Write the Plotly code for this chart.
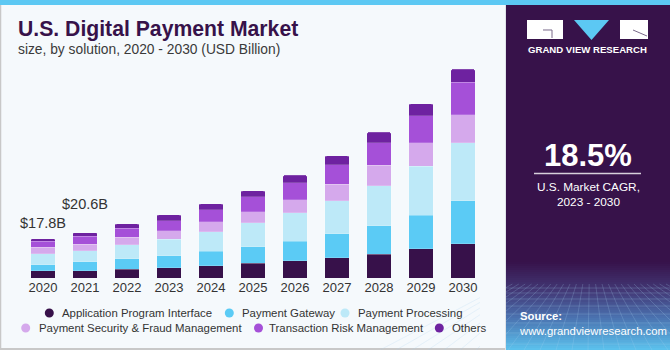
import plotly.graph_objects as go

# ---------------- data ----------------
years = ["2020", "2021", "2022", "2023", "2024", "2025", "2026", "2027", "2028", "2029", "2030"]
segment_names = ["Application Program Interface", "Payment Gateway", "Payment Processing",
                 "Payment Security & Fraud Management", "Transaction Risk Management", "Others"]
api = [3.3, 3.4, 4.05, 4.65, 5.55, 6.75, 7.8, 9.15, 10.8, 13.2, 15.6]
gateway = [2.9, 4.0, 4.65, 5.4, 6.6, 7.35, 8.85, 10.95, 12.9, 15.15, 19.2]
processing = [4.8, 5.1, 6.3, 7.5, 8.7, 10.95, 12.75, 14.7, 17.85, 22.05, 26.1]
security = [2.9, 2.85, 3.45, 3.9, 4.5, 4.95, 5.85, 7.5, 9.3, 10.5, 12.75]
risk = [2.7, 3.6, 4.05, 4.5, 5.4, 6.6, 7.8, 8.7, 10.05, 12.15, 14.55]
others = [1.2, 1.65, 1.95, 2.55, 2.7, 2.7, 3.3, 4.05, 4.8, 5.4, 5.85]
value_labels = ["$17.8B", "$20.6B"]
cagr_text = "18.5%"
cagr_caption = "U.S. Market CAGR,<br>2023 - 2030"

series = [api, gateway, processing, security, risk, others]
colors = ["#37114a", "#5bcbf5", "#bde9f8", "#d5a9ec", "#a550d8", "#6e22a0"]

W, H = 670, 350


def px(x):
    return x / W


def py(y):
    return 1 - y / H


fig = go.Figure()
for name, vals, col in zip(segment_names, series, colors):
    fig.add_trace(go.Bar(
        x=years, y=vals, name=name, marker_color=col,
        marker_line_width=0.5, marker_line_color="rgba(255,255,255,0.35)",
        showlegend=False, hoverinfo="skip"))

shapes = []
annotations = []

# backgrounds
shapes.append(dict(type="rect", xref="paper", yref="paper", x0=0, x1=px(506), y0=0, y1=1,
                   fillcolor="#f5f9fc", line_width=0, layer="below"))
shapes.append(dict(type="line", xref="paper", yref="paper", x0=px(0.5), x1=px(0.5), y0=0, y1=1,
                   line=dict(color="#c8c8c8", width=1.5), layer="below"))
shapes.append(dict(type="line", xref="paper", yref="paper", x0=0, x1=px(506), y0=py(349), y1=py(349),
                   line=dict(color="#c8c8c8", width=2), layer="below"))
shapes.append(dict(type="rect", xref="paper", yref="paper", x0=px(506), x1=1, y0=0, y1=1,
                   fillcolor="#37124a", line_width=0, layer="below"))


# gradient at bottom of right panel
def hex2rgb(h):
    h = h.lstrip("#")
    return [int(h[i:i + 2], 16) for i in (0, 2, 4)]


stops = [(262, "#37124a"), (292, "#433a78"), (318, "#4a72b0"), (350, "#5cc3ee")]
y = 262.0
step = 2.0
while y < 350:
    ym = y + step / 2
    for (a, ca), (b, cb) in zip(stops[:-1], stops[1:]):
        if a <= ym <= b:
            t = (ym - a) / (b - a)
            c1, c2 = hex2rgb(ca), hex2rgb(cb)
            c = [round(c1[i] + (c2[i] - c1[i]) * t) for i in range(3)]
            break
    shapes.append(dict(type="rect", xref="paper", yref="paper", x0=px(506), x1=1,
                       y0=py(min(y + step + 0.5, 350)), y1=py(y), fillcolor="rgb(%d,%d,%d)" % tuple(c),
                       line_width=0, layer="below"))
    y += step

# mesh pattern
grid_col = "rgba(170,210,240,0.28)"
for gy in [288, 293, 299, 306, 314, 323, 333, 344]:
    shapes.append(dict(type="line", xref="paper", yref="paper", x0=px(506), x1=1, y0=py(gy), y1=py(gy),
                       line=dict(color=grid_col, width=0.8), layer="below"))
vx, vy = 590, 240
for xb in range(380, 820, 16):
    ys = 284
    xs = vx + (xb - vx) * (ys - vy) / (350 - vy)
    shapes.append(dict(type="line", xref="paper", yref="paper", x0=px(xs), x1=px(xb), y0=py(ys), y1=py(350),
                       line=dict(color=grid_col, width=0.8), layer="below"))
# cover overflow of mesh to the left of right panel
shapes.append(dict(type="rect", xref="paper", yref="paper", x0=px(480), x1=px(506), y0=0, y1=py(260),
                   fillcolor="#f5f9fc", line_width=0, layer="below"))
shapes.append(dict(type="line", xref="paper", yref="paper", x0=px(480), x1=px(506), y0=py(349), y1=py(349),
                   line=dict(color="#c8c8c8", width=2), layer="below"))
shapes.append(dict(type="line", xref="paper", yref="paper", x0=px(505.5), x1=px(505.5), y0=0, y1=1,
                   line=dict(color="#dfe3e8", width=1), layer="below"))

# top cyan strip
shapes.append(dict(type="rect", xref="paper", yref="paper", x0=0, x1=1, y0=py(5), y1=1,
                   fillcolor="#5cc8f3", line_width=0, layer="below"))

# logo
shapes.append(dict(type="rect", xref="paper", yref="paper", x0=px(527), x1=px(563), y0=py(39), y1=py(20),
                   fillcolor="white", line_width=0))
shapes.append(dict(type="path", xref="paper", yref="paper",
                   path="M %f %f L %f %f L %f %f Z" % (px(574), py(20), px(609), py(20), px(591.5), py(40)),
                   fillcolor="#5cc8f3", line_width=0))
shapes.append(dict(type="rect", xref="paper", yref="paper", x0=px(620), x1=px(648), y0=py(39), y1=py(20),
                   fillcolor="white", line_width=0))
shapes.append(dict(type="path", xref="paper", yref="paper",
                   path="M %f %f L %f %f L %f %f" % (px(543), py(30), px(552), py(30), px(552), py(38)),
                   line=dict(color="#7a6a8a", width=1)))
shapes.append(dict(type="line", xref="paper", yref="paper", x0=px(633), y0=py(30), x1=px(647), y1=py(36),
                   line=dict(color="#7a6a8a", width=1)))
annotations.append(dict(text="<b>GRAND VIEW RESEARCH</b>", x=px(587), y=py(49.5), xref="paper", yref="paper",
                        xanchor="center", yanchor="middle", showarrow=False,
                        font=dict(family="Liberation Sans", size=9.6, color="white")))

# CAGR block
annotations.append(dict(text="<b>%s</b>" % cagr_text, x=px(588), y=py(155), xref="paper", yref="paper",
                        xanchor="center", yanchor="middle", showarrow=False,
                        font=dict(family="Liberation Sans", size=31, color="white")))
shapes.append(dict(type="line", xref="paper", yref="paper", x0=px(534), x1=px(641), y0=py(173.5), y1=py(173.5),
                   line=dict(color="rgba(255,255,255,0.8)", width=1.3)))
annotations.append(dict(text=cagr_caption, x=px(588), y=py(194), xref="paper", yref="paper",
                        xanchor="center", yanchor="middle", showarrow=False,
                        font=dict(family="Liberation Sans", size=11.8, color="white")))
annotations.append(dict(text="<b>Source:</b><br>www.grandviewresearch.com", x=px(517), y=py(323),
                        xref="paper", yref="paper", xanchor="left", yanchor="middle", align="left",
                        showarrow=False, font=dict(family="Liberation Sans", size=11.3, color="white")))

# titles
annotations.append(dict(text="<b>U.S. Digital Payment Market</b>", x=px(16), y=py(29), xref="paper",
                        yref="paper", xanchor="left", yanchor="middle", showarrow=False,
                        font=dict(family="Liberation Sans", size=21.2, color="#37124a")))
annotations.append(dict(text="size, by solution, 2020 - 2030 (USD Billion)", x=px(16), y=py(50),
                        xref="paper", yref="paper", xanchor="left", yanchor="middle", showarrow=False,
                        font=dict(family="Liberation Sans", size=13.8, color="#3a3a3a")))

# value labels above first bars
totals = [sum(v[i] for v in series) for i in range(len(years))]
shifts = [16, 29]
for i, lab in enumerate(value_labels):
    annotations.append(dict(text=lab, x=i, y=totals[i], xref="x", yref="y",
                            xanchor="center", yanchor="middle", yshift=shifts[i], showarrow=False,
                            font=dict(family="Liberation Sans", size=14.5, color="#333333")))

# manual legend (two rows)
legend_pos = [(49.3, 313, 60), (229.3, 313, 239.5), (345, 313, 356),
              (25.7, 328, 36.5), (258.5, 328, 267), (439.3, 328, 450)]
for name, col, (mx, my, tx) in zip(segment_names, colors, legend_pos):
    r = 4.5
    shapes.append(dict(type="circle", xref="paper", yref="paper", x0=px(mx - r), x1=px(mx + r),
                       y0=py(my + r), y1=py(my - r), fillcolor=col, line_width=0))
    annotations.append(dict(text=name, x=px(tx), y=py(my), xref="paper", yref="paper",
                            xanchor="left", yanchor="middle", showarrow=False,
                            font=dict(family="Liberation Sans", size=11.4, color="#333333")))

base_y = 278.3
top_y = 60.0
fig.update_layout(
    width=W, height=H, margin=dict(l=0, r=0, t=0, b=0),
    paper_bgcolor="#f5f9fc", plot_bgcolor="rgba(0,0,0,0)",
    barmode="stack", bargap=0.42, barcornerradius=2,
    showlegend=False,
    xaxis=dict(domain=[px(22), px(484)], type="category", range=[-0.5, 10.5],
               showgrid=False, zeroline=False, showline=False, ticks="",
               tickfont=dict(family="Liberation Sans", size=13, color="#333333")),
    yaxis=dict(domain=[py(base_y), py(top_y)], range=[0, (base_y - top_y) * 0.45],
               visible=False, showgrid=False, zeroline=False),
    shapes=shapes, annotations=annotations,
)

fig.write_html("out.html")
